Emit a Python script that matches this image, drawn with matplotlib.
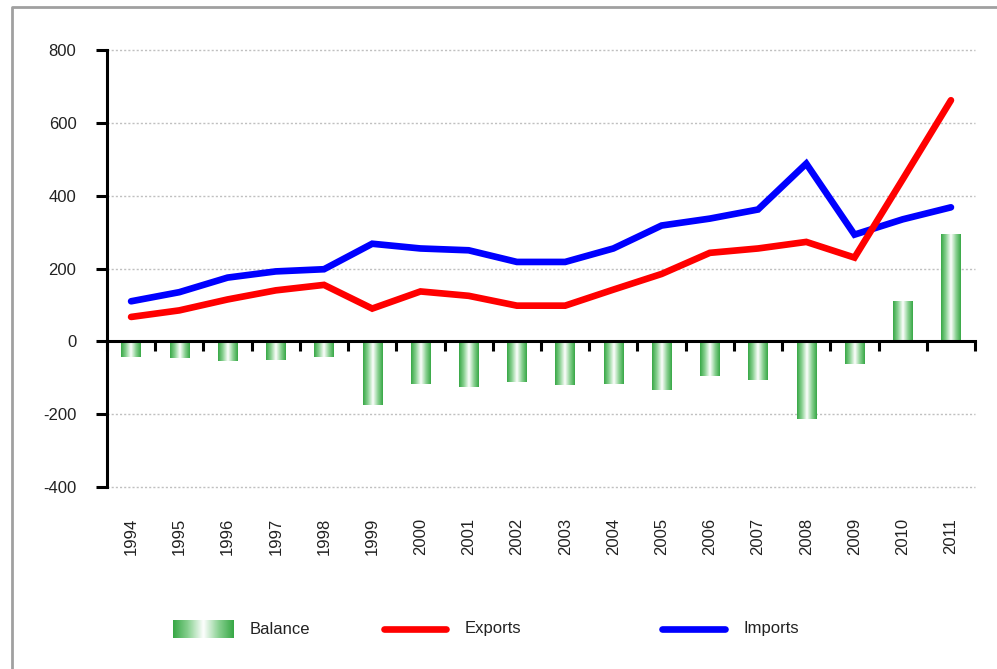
import numpy as np
import matplotlib.pyplot as plt
from matplotlib.lines import Line2D
from matplotlib.colors import LinearSegmentedColormap
import matplotlib.transforms as mtransforms

plt.rcParams['font.family'] = ['Liberation Sans', 'DejaVu Sans']

years = ['1994', '1995', '1996', '1997', '1998', '1999', '2000', '2001', '2002',
         '2003', '2004', '2005', '2006', '2007', '2008', '2009', '2010', '2011']
exports = [67, 85, 115, 140, 155, 90, 137, 125, 98, 98, 142, 185, 243, 255, 273, 230, 445, 662]
imports = [110, 135, 175, 192, 198, 268, 255, 250, 218, 218, 255, 318, 337, 362, 488, 293, 335, 368]
balance = [-43, -45, -55, -50, -43, -175, -118, -125, -112, -120, -118, -133, -95, -105, -213, -63, 112, 295]
y_ticks = [-400, -200, 0, 200, 400, 600, 800]

# green -> white -> green shading used for the balance bars
bar_cmap = LinearSegmentedColormap.from_list(
    'bal', ['#38a846', '#8cd294', '#ffffff', '#8cd294', '#38a846'])
grad = np.linspace(0, 1, 64).reshape(1, -1)

fig = plt.figure(figsize=(9.97, 6.69), dpi=100)
ax = fig.add_axes([0.1073, 0.272, 0.8707, 0.6533])

x = np.arange(len(years))
bars = ax.bar(x, balance, width=0.4, facecolor='none', edgecolor='none', zorder=2)
for b in bars:
    x0, y0 = b.get_x(), b.get_y()
    w, h = b.get_width(), b.get_height()
    im = ax.imshow(grad, cmap=bar_cmap, aspect='auto', interpolation='bilinear',
                   extent=(x0, x0 + w, min(y0, y0 + h), max(y0, y0 + h)), zorder=2)
    im.set_clip_path(b)

ax.plot(x, imports, color='#0000ff', lw=4.8, solid_capstyle='round',
        solid_joinstyle='miter', zorder=4)
ax.plot(x, exports, color='#ff0000', lw=4.8, solid_capstyle='round',
        solid_joinstyle='miter', zorder=5)

ax.set_xlim(-0.5, len(years) - 0.5)
ax.set_ylim(-400, 800)
ax.set_yticks(y_ticks)
ax.set_yticklabels([str(v) for v in y_ticks], fontsize=12, color='#222222')
for v in y_ticks:
    if v != 0:
        ax.axhline(v, color='#c0c0c0', lw=1, ls=(0, (1.5, 1.5)), zorder=1, clip_on=False)

for s in ['top', 'right']:
    ax.spines[s].set_visible(False)
ax.spines['left'].set_linewidth(2.2)
ax.spines['left'].set_zorder(3)
ax.spines['bottom'].set_position(('data', 0))
ax.spines['bottom'].set_linewidth(2.2)
ax.spines['bottom'].set_zorder(3)
ax.tick_params(axis='y', length=8, width=2.2, pad=14, direction='out')
ax.set_xticks(np.arange(len(years) + 1) - 0.5)
ax.set_xticklabels([])
ax.tick_params(axis='x', length=7, width=2.2, direction='out')

trans = mtransforms.blended_transform_factory(ax.transData, ax.transAxes)
for i, yr in enumerate(years):
    ax.text(i, -0.071, yr, rotation=90, ha='center', va='top', fontsize=12,
            color='#222222', transform=trans)

# overlay in pixel coordinates for the legend and outer frame
lax = fig.add_axes([0, 0, 1, 1], zorder=-1)
lax.set_xlim(0, 997)
lax.set_ylim(669, 0)
lax.axis('off')
lax.plot([12, 12, 997], [669, 7, 7], color='#a0a0a0', lw=2.0)

lax.imshow(grad, cmap=bar_cmap, aspect='auto', interpolation='bilinear',
           extent=(173, 233, 638, 620))
lax.text(250, 629, 'Balance', fontsize=12, va='center', color='#222222')
lax.add_line(Line2D([384, 446], [629, 629], color='#ff0000', lw=4.8, solid_capstyle='round'))
lax.text(465, 629, 'Exports', fontsize=12, va='center', color='#222222')
lax.add_line(Line2D([662, 725], [629, 629], color='#0000ff', lw=4.8, solid_capstyle='round'))
lax.text(743, 629, 'Imports', fontsize=12, va='center', color='#222222')
lax.set_xlim(0, 997)
lax.set_ylim(669, 0)

fig.savefig('out.png', dpi=100)
